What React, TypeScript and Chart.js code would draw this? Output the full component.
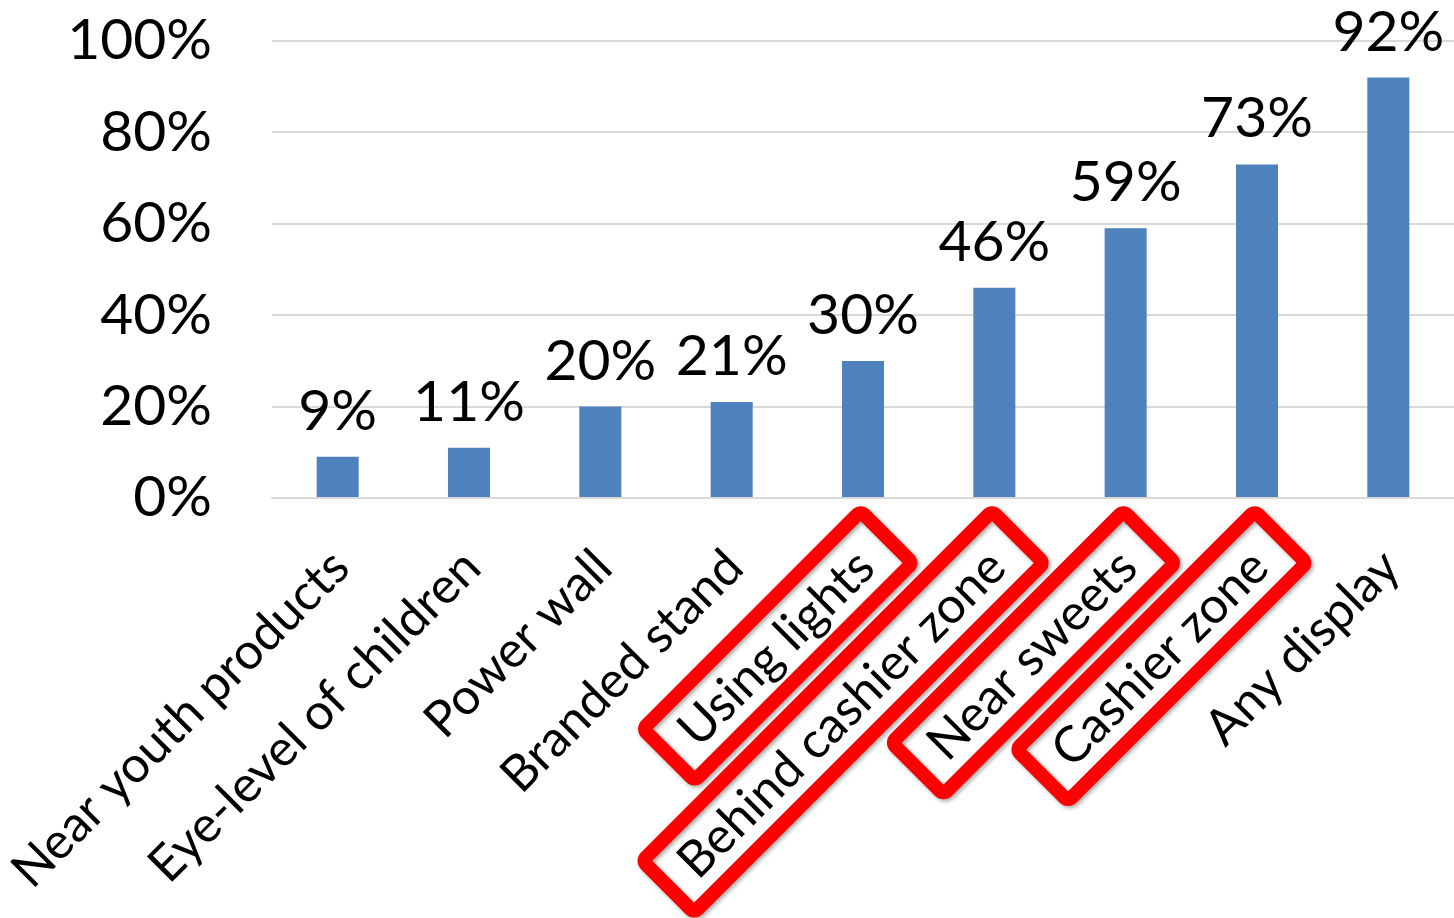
import React, { useEffect, useRef } from "react";
import { Chart, registerables } from "chart.js";

Chart.register(...registerables);

const categories = [
  "Near youth products",
  "Eye-level of children",
  "Power wall",
  "Branded stand",
  "Using lights",
  "Behind cashier zone",
  "Near sweets",
  "Cashier zone",
  "Any display",
];
const values = [9, 11, 20, 21, 30, 46, 59, 73, 92];
const highlighted = [4, 5, 6, 7];
const yTicks = [0, 20, 40, 60, 80, 100];

const FONT = "Lato, 'Noto Sans', sans-serif";
const BAR_COLOR = "#4f81bd";
const GRID_COLOR = "#d9d9d9";

const labelsPlugin = {
  id: "customLabels",
  afterDatasetsDraw(chart: any) {
    const ctx = chart.ctx;
    const meta = chart.getDatasetMeta(0);
    ctx.save();
    ctx.fillStyle = "#000";
    ctx.font = `57px ${FONT}`;
    ctx.textAlign = "center";
    ctx.textBaseline = "alphabetic";
    meta.data.forEach((bar: any, i: number) => {
      ctx.fillText(values[i] + "%", bar.x, bar.y - 27);
    });
    ctx.restore();
  },
  afterDraw(chart: any) {
    const ctx = chart.ctx;
    const xScale = chart.scales.x;
    const axisY = chart.chartArea.bottom;
    const rot = -Math.PI / 4;
    ctx.save();
    ctx.font = `50px ${FONT}`;
    categories.forEach((label, i) => {
      const px = xScale.getPixelForTick(i) + 3;
      const py = axisY + 61;
      const w = ctx.measureText(label).width;
      ctx.save();
      ctx.translate(px, py);
      ctx.rotate(rot);
      if (highlighted.includes(i)) {
        const padL = 25;
        const padR = 30;
        const h = 73;
        ctx.save();
        ctx.shadowColor = "rgba(0,0,0,0.35)";
        ctx.shadowBlur = 4;
        ctx.shadowOffsetX = 2;
        ctx.shadowOffsetY = 2;
        ctx.strokeStyle = "#ff0000";
        ctx.lineWidth = 14;
        ctx.lineJoin = "round";
        ctx.beginPath();
        (ctx as any).roundRect(-w - padL, -h / 2 - 1, w + padL + padR, h, 5);
        ctx.stroke();
        ctx.restore();
      }
      ctx.fillStyle = "#000";
      ctx.textAlign = "right";
      ctx.textBaseline = "middle";
      ctx.fillText(label, 0, 0);
      ctx.restore();
    });
    ctx.restore();
  },
};

export default function App() {
  const canvasRef = useRef<HTMLCanvasElement | null>(null);

  useEffect(() => {
    document.body.style.margin = "0";
    const canvas = canvasRef.current;
    if (!canvas) return;
    const chart = new Chart(canvas, {
      type: "bar",
      data: {
        labels: categories,
        datasets: [
          {
            data: values,
            backgroundColor: BAR_COLOR,
            borderWidth: 0,
            barPercentage: 0.32,
            categoryPercentage: 1,
          },
        ],
      },
      options: {
        animation: false,
        responsive: false,
        devicePixelRatio: 1,
        layout: { padding: { top: 41, left: 0, right: 0, bottom: 0 } },
        plugins: {
          legend: { display: false },
          tooltip: { enabled: false },
        },
        scales: {
          x: {
            grid: { display: false, drawTicks: false },
            border: { display: true, color: GRID_COLOR, width: 2 },
            ticks: { display: false },
            afterFit: (scale: any) => {
              scale.height = 420;
              scale.paddingLeft = 0;
              scale.paddingRight = 0;
            },
          },
          y: {
            min: 0,
            max: 100,
            afterBuildTicks: (scale: any) => {
              scale.ticks = yTicks.map((v) => ({ value: v }));
            },
            grid: { color: GRID_COLOR, lineWidth: 2, drawTicks: false },
            border: { display: false },
            ticks: {
              padding: 60,
              color: "#000",
              font: { family: FONT, size: 57 },
              callback: (v: any) => v + "%",
            },
            afterFit: (scale: any) => {
              scale.width = 272;
              scale.paddingTop = 0;
              scale.paddingBottom = 0;
            },
          },
        },
      },
      plugins: [labelsPlugin],
    });
    return () => chart.destroy();
  }, []);

  return (
    <div style={{ width: 1454, height: 918, background: "#fff" }}>
      <canvas ref={canvasRef} width={1454} height={918} style={{ display: "block" }} />
    </div>
  );
}
